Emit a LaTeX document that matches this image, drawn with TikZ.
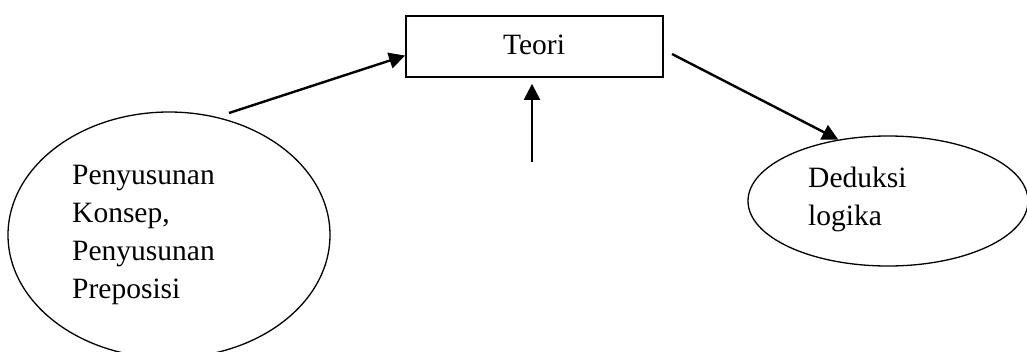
\documentclass[tikz,border=0pt]{standalone}
\usepackage{fontspec}
\setmainfont{Liberation Serif}
\usetikzlibrary{arrows.meta,shapes.geometric}

\begin{document}
\begin{tikzpicture}[x=1pt,y=-1pt,
  lbl/.style={font=\fontsize{29.5}{38}\selectfont, inner sep=0pt, align=left},
  boxnode/.style={draw, line width=1.8pt, minimum width=257pt, minimum height=61pt, inner sep=0pt},
  oval/.style={draw, ellipse, line width=1.3pt, inner sep=0pt},
  arr/.style={line width=2.4pt, -{Triangle[length=16pt,width=16pt]}}
]
\useasboundingbox (0,0) rectangle (1027,351);

% central box
\node[boxnode] (teori) at (534.5,46.5) {};
\node[lbl, anchor=base] (teoritxt) at (534,54) {Teori};

% left oval (text block anchored on its last baseline)
\node[oval, minimum width=322pt, minimum height=246pt] (konsep) at (169,235) {};
\node[lbl, anchor=base west] (konseptxt) at (72,298)
  {Penyusunan\\Konsep,\\Penyusunan\\Preposisi};

% right oval
\node[oval, minimum width=280pt, minimum height=130pt] (deduksi) at (888,201) {};
\node[lbl, anchor=base west] (deduksitxt) at (808,225) {Deduksi\\logika};

% connectors
\coordinate (kstart) at (229,113);
\coordinate (vstart) at (532,162);
\coordinate (rstart) at (672,54);
\draw[arr] (kstart) -- (teori.184);
\draw[arr] (vstart) -- ([shift={(0,6)}]vstart |- teori.south);
\draw[arr] (rstart) -- (deduksi.129);
\end{tikzpicture}
\end{document}
